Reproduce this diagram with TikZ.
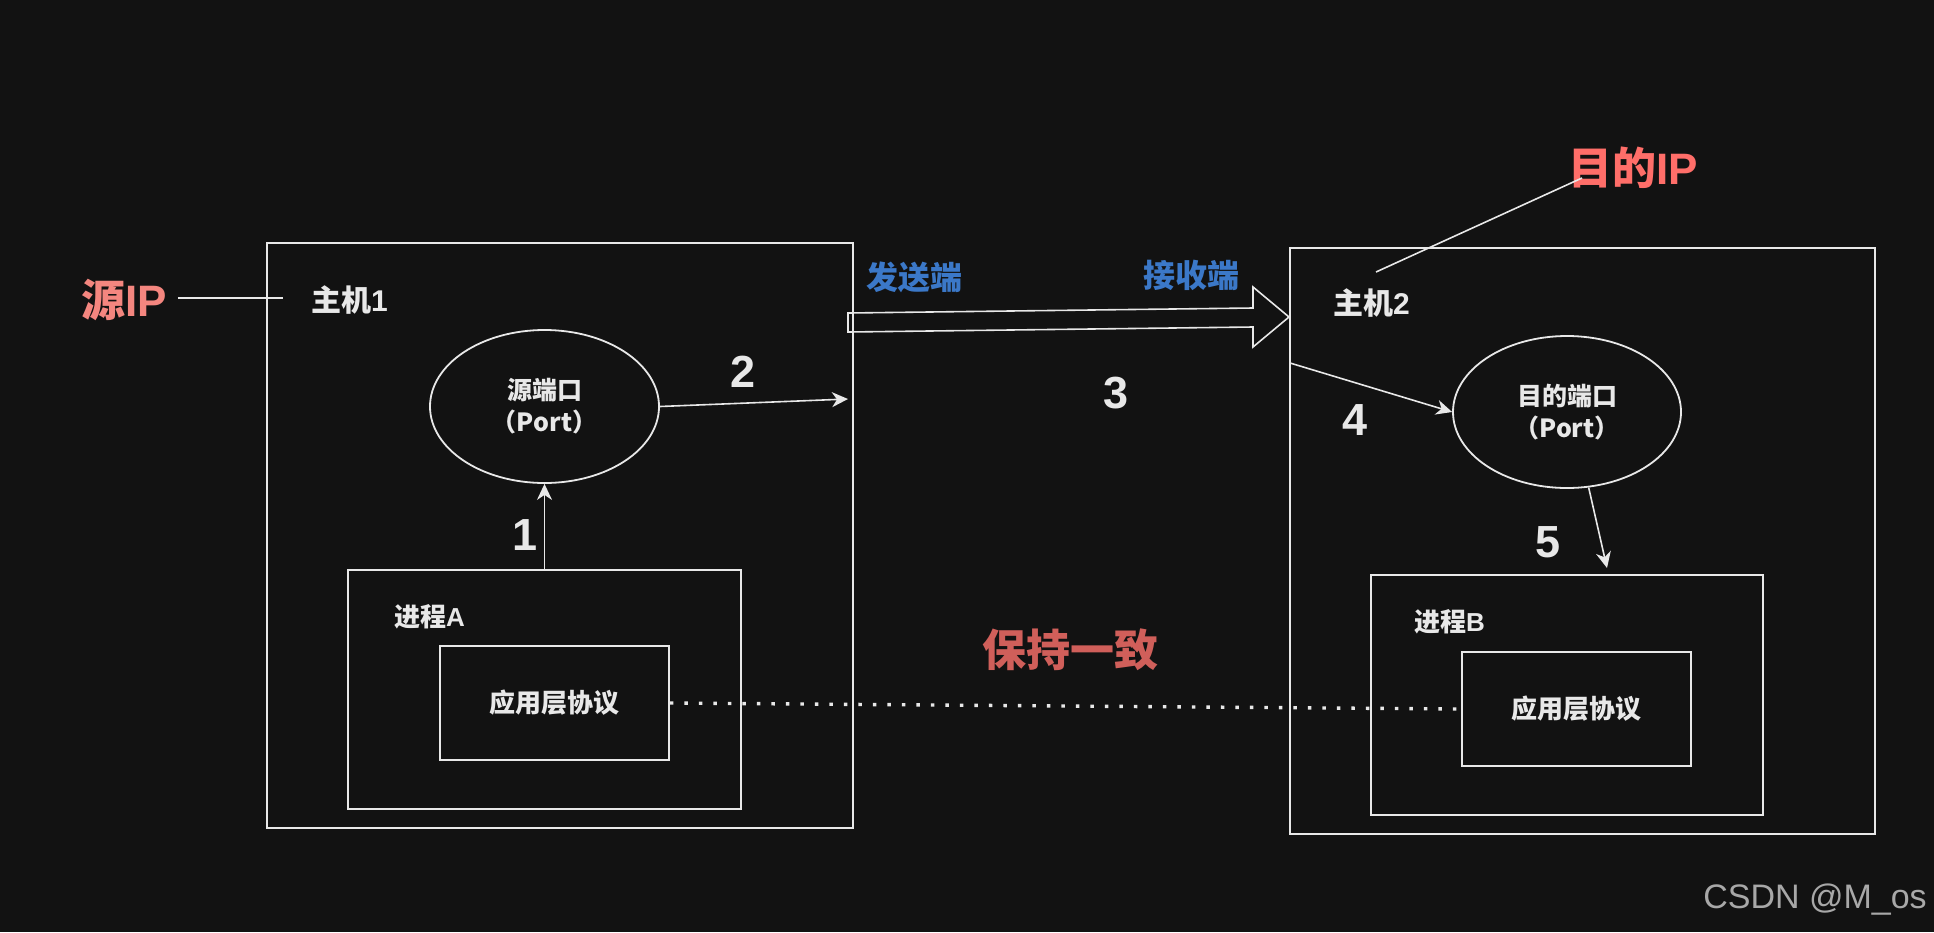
\documentclass[tikz,border=0pt]{standalone}
\usepackage{fontspec}
\setmainfont{Noto Sans CJK SC}
\newfontfamily\wmfont{Liberation Sans}
\usetikzlibrary{shapes.geometric,arrows.meta}
\definecolor{bg}{HTML}{121212}
\definecolor{ln}{HTML}{E8E8E8}
\definecolor{ipred}{HTML}{F4867F}
\definecolor{ipred2}{HTML}{FF6E69}
\definecolor{keepred}{HTML}{D05F5A}
\definecolor{endblue}{HTML}{3B78C8}
\definecolor{wm}{HTML}{A8A8A8}
\tikzset{
  box/.style={draw=ln, line width=1.8pt, rectangle, inner sep=0pt},
  oval/.style={draw=ln, line width=1.8pt, ellipse, inner sep=0pt, align=center,
    text=ln, font=\fontsize{25}{32}\selectfont\bfseries},
  lbl/.style={text=ln, inner sep=0pt, font=\fontsize{30}{36}\selectfont\bfseries},
  small/.style={text=ln, inner sep=0pt, font=\fontsize{26}{32}\selectfont\bfseries},
  num/.style={text=ln, inner sep=0pt, font=\wmfont\fontsize{45}{50}\selectfont\bfseries},
  big/.style={inner sep=0pt, font=\fontsize{44}{50}\selectfont\bfseries},
  side/.style={text=endblue, inner sep=0pt, font=\fontsize{32}{38}\selectfont\bfseries},
  conn/.style={draw=ln, line width=1.6pt},
  arr/.style={conn, -{Stealth[length=16pt, width=15pt, inset=5pt]}},
}
\begin{document}
\begin{tikzpicture}[x=1pt, y=-1pt]
\fill[bg] (0,0) rectangle (1934,932);
\useasboundingbox (0,0) rectangle (1934,932);

% hosts
\node[box, minimum width=586pt, minimum height=585pt] (h1) at (560,535.5) {};
\node[box, minimum width=585pt, minimum height=586pt] (h2) at (1582.5,541) {};
% processes
\node[box, minimum width=393pt, minimum height=239pt] (pa) at (544.5,689.5) {};
\node[box, minimum width=392pt, minimum height=240pt] (pb) at (1567,695) {};
% protocol boxes
\node[box, minimum width=229pt, minimum height=114pt, small] (ia) at (554.5,703) {应用层协议};
\node[box, minimum width=229pt, minimum height=114pt, small] (ib) at (1576.5,709) {应用层协议};
% ports
\node[oval, minimum width=229pt, minimum height=153pt] (e1) at (544.5,406.5) {源端口\\（Port）};
\node[oval, minimum width=228pt, minimum height=152pt] (e2) at (1567,412) {目的端口\\（Port）};

% labels
\node[lbl, anchor=west] (t1) at (311,300) {主机{\wmfont\bfseries 1}};
\node[lbl, anchor=west] (t2) at (1333,303) {主机{\wmfont\bfseries 2}};
\node[small, anchor=west] (ta) at (394,617) {进程{\wmfont\bfseries A}};
\node[small, anchor=west] (tb) at (1414,622) {进程{\wmfont\bfseries B}};
\node[big, text=ipred] (srcip) at (124,300) {源{\wmfont\bfseries IP}};
\node[big, text=ipred2] (dstip) at (1633,168) {目的{\wmfont\bfseries IP}};
\node[side] (send) at (914.5,277) {发送端};
\node[side] (recv) at (1191,275) {接收端};
\node[big, text=keepred] (keep) at (1070,650) {保持一致};
\node[num] (n1) at (525,535) {1};
\node[num] (n2) at (743,372) {2};
\node[num] (n3) at (1116,393) {3};
\node[num] (n4) at (1355,420) {4};
\node[num] (n5) at (1548,542) {5};
\node[inner sep=0pt, text=wm, font=\wmfont\fontsize{34}{40}\selectfont] (wmk) at (1815,900) {CSDN @M\_os};

% connectors
\coordinate (c1) at (283,298);
\draw[conn] ([xshift=11pt,yshift=2pt]srcip.east) -- (c1);
\coordinate (c2a) at (1582,178);
\coordinate (c2b) at (1376,272);
\draw[conn] (c2a) -- (c2b);

\draw[arr] (pa.north) -- (e1.south);
\coordinate (p2) at (848,399);
\draw[arr] (e1.east) -- (p2);
\coordinate (p4) at (1290,363);
\draw[arr] (p4) -- (e2.west);
\coordinate (p5) at (1607,568);
\draw[arr] (e2.-74) -- (p5);

% big block arrow
\coordinate (b1) at (848,313);
\coordinate (b2) at (1253,308);
\coordinate (b3) at (1253,287);
\coordinate (b4) at (1289,317);
\coordinate (b5) at (1253,347);
\coordinate (b6) at (1253,327);
\coordinate (b7) at (848,332);
\draw[conn, line join=miter] (b1) -- (b2) -- (b3) -- (b4) -- (b5) -- (b6) -- (b7) -- cycle;

% dotted link
\draw[draw=ln, line width=3.4pt, dash pattern=on 3.4pt off 11.1pt] (ia.east) -- (ib.west);
\end{tikzpicture}
\end{document}
